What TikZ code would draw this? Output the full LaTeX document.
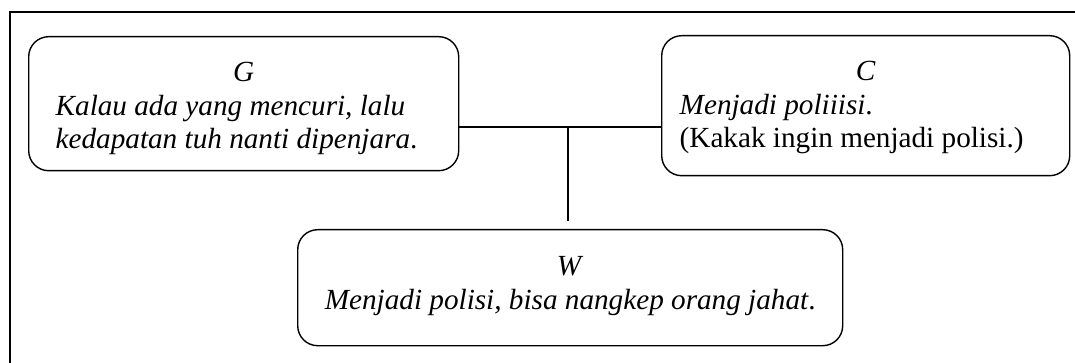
\documentclass[tikz,border=0pt]{standalone}
\usepackage{fontspec}
\setmainfont{Liberation Serif}
\begin{document}
\begin{tikzpicture}[x=0.5pt,y=-0.5pt,
  card/.style={draw, line width=0.7pt, rounded corners=10pt, anchor=north west,
    inner ysep=0pt, inner xsep=#1, font=\fontsize{14.6}{16.8}\selectfont},
  link/.style={line width=0.6pt},
  frame/.style={line width=1.1pt}]
\useasboundingbox (0,0) rectangle (1075,363);

% open frame: top and left rules only
\draw[frame] (10,364) -- (10,12) -- (1076,12);

% statement boxes
\node[card=13.5pt] (G) at (28,36)
  {\parbox[c][67pt][t]{188pt}{\vspace*{12.8pt}\centering\textit{G}\par
   \raggedright\textit{Kalau ada yang mencuri, lalu}\\
   \textit{kedapatan tuh nanti dipenjara}.}};

\node[card=9pt] (C) at (661,35)
  {\parbox[c][70pt][t]{186pt}{\vspace*{12.8pt}\centering\textit{C}\par
   \raggedright\textit{Menjadi poliiisi}.\\
   (Kakak ingin menjadi polisi.)}};

\node[card=9pt] (W) at (297,229)
  {\parbox[c][58pt][t]{254.5pt}{\vspace*{13.5pt}\centering\textit{W}\par
   \textit{Menjadi polisi, bisa nangkep orang jahat}.}};

% connectors
\coordinate (J) at (568,127);
\coordinate (K) at (568,221);
\draw[link] (G.east |- J) -- (C.west |- J);
\draw[link] (J) -- (K);
\end{tikzpicture}
\end{document}
